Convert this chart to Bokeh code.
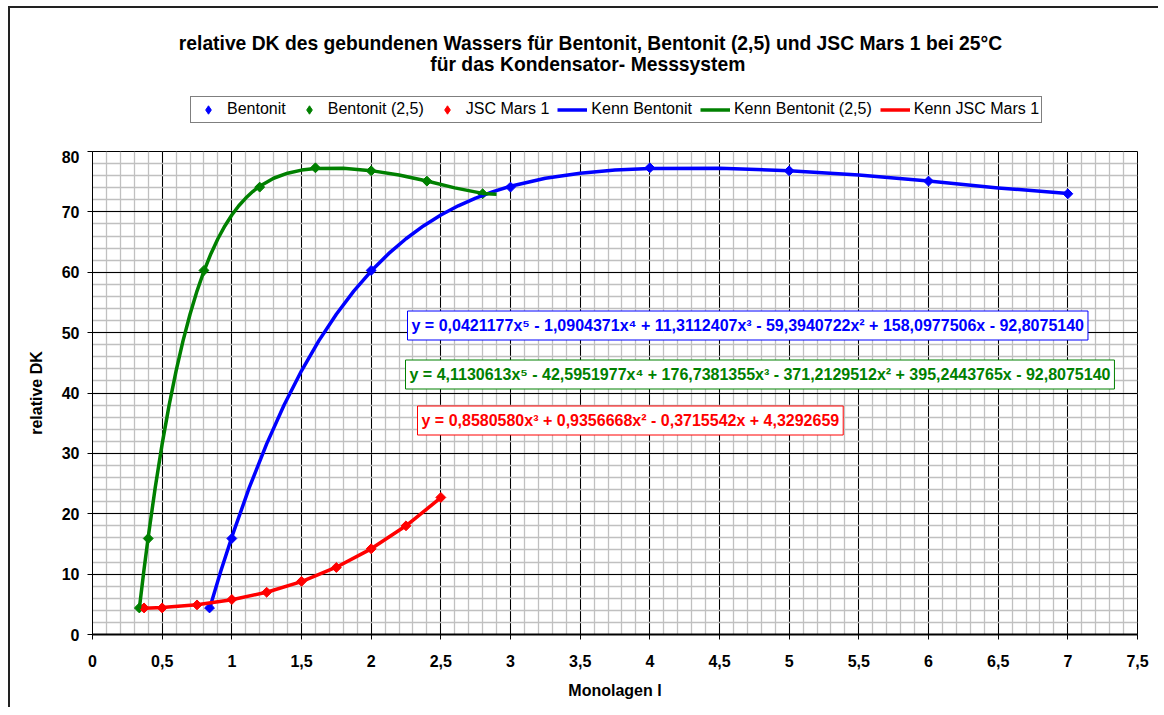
import math
from bokeh.plotting import figure
from bokeh.layouts import column
from bokeh.models import Range1d, FixedTicker, Label, Legend, LegendItem
from bokeh.embed import file_html
from bokeh.resources import INLINE

FONT = "Liberation Sans"

# ---------------- data ----------------
title_line1 = "relative DK des gebundenen Wassers für Bentonit, Bentonit (2,5) und JSC Mars 1 bei 25°C"
title_line2 = "für das Kondensator-  Messsystem"
x_axis_title = "Monolagen l"
y_axis_title = "relative DK"

bent_x = [0.84, 1, 2, 3, 4, 5, 6, 7]
bent_y = [4.4, 15.9, 60.3, 74.1, 77.3, 76.8, 75.1, 73.0]

bent25_x = [0.336, 0.4, 0.8, 1.2, 1.6, 2.0, 2.4, 2.8]
bent25_y = [4.4, 15.9, 60.3, 74.1, 77.3, 76.8, 75.1, 73.0]

jsc_x = [0.37, 0.5, 0.75, 1, 1.25, 1.5, 1.75, 2, 2.25, 2.5]
jsc_y = [4.4, 4.4, 4.9, 5.8, 7.0, 8.8, 11.1, 14.2, 18.0, 22.7]

kenn_bent_x = [0.84, 0.92, 1, 1.125, 1.25, 1.375, 1.5, 1.625, 1.75, 1.875, 2, 2.125, 2.25, 2.375,
               2.5, 2.625, 2.75, 2.875, 3, 3.25, 3.5, 3.75, 4, 4.5, 5, 5.5, 6, 6.5, 7]
kenn_bent_y = [4.27, 10.43, 16.16, 24.32, 31.57, 38.00, 43.68, 48.67, 53.05, 56.88, 60.20, 63.08,
               65.55, 67.67, 69.48, 71.01, 72.29, 73.36, 74.25, 75.57, 76.41, 76.92, 77.17, 77.21,
               76.83, 76.12, 75.12, 73.97, 73.06]

kenn_bent25_x = [0.336, 0.368, 0.4, 0.45, 0.5, 0.55, 0.6, 0.65, 0.7, 0.75, 0.8, 0.85, 0.9, 0.95,
                 1.0, 1.05, 1.1, 1.15, 1.2, 1.3, 1.4, 1.5, 1.6, 1.8, 2.0, 2.2, 2.4, 2.6, 2.8, 2.9]
kenn_bent25_y = [4.27, 10.43, 16.16, 24.32, 31.57, 38.00, 43.68, 48.67, 53.05, 56.88, 60.20, 63.08,
                 65.55, 67.67, 69.48, 71.01, 72.29, 73.36, 74.25, 75.57, 76.41, 76.92, 77.17, 77.21,
                 76.83, 76.12, 75.12, 73.97, 73.06, 72.93]

kenn_jsc_x = [0.37, 0.5, 0.75, 1, 1.25, 1.5, 1.75, 2, 2.25, 2.5]
kenn_jsc_y = [4.36, 4.48, 4.94, 5.75, 7.00, 8.77, 11.14, 14.19, 18.00, 22.66]

eq_bent = "y = 0,0421177x⁵ - 1,0904371x⁴ + 11,3112407x³ - 59,3940722x² + 158,0977506x - 92,8075140"
eq_bent25 = "y = 4,1130613x⁵ - 42,5951977x⁴ + 176,7381355x³ - 371,2129512x² + 395,2443765x - 92,8075140"
eq_jsc = "y = 0,8580580x³ + 0,9356668x² - 0,3715542x + 4,3292659"

x_tick_values = [0, 0.5, 1, 1.5, 2, 2.5, 3, 3.5, 4, 4.5, 5, 5.5, 6, 6.5, 7, 7.5]
x_tick_labels = ["0", "0,5", "1", "1,5", "2", "2,5", "3", "3,5", "4", "4,5", "5", "5,5", "6", "6,5", "7", "7,5"]
y_tick_values = [0, 10, 20, 30, 40, 50, 60, 70, 80]
y_tick_labels = ["0", "10", "20", "30", "40", "50", "60", "70", "80"]

legend_labels = ["Bentonit", "Bentonit (2,5)", "JSC Mars 1",
                 "Kenn Bentonit", "Kenn Bentonit (2,5)", "Kenn JSC Mars 1"]

BLUE, GREEN, RED = "#0000FF", "#008000", "#FF0000"

W = 1148
HEAD_H = 142
MAIN_H = 557
BL, BR = 82, 21  # frame borders (left / right)

# ---------------- main plot ----------------
p = figure(width=W, height=MAIN_H, output_backend="svg", toolbar_location=None, title=None,
           x_range=Range1d(0, 7.5), y_range=Range1d(0, 80),
           min_border_left=BL, min_border_right=BR, min_border_top=1, min_border_bottom=73)
p.background_fill_color = "white"
p.border_fill_color = "white"
p.outline_line_color = "black"
p.outline_line_width = 1

x_minor = [i / 10 for i in range(0, 76)]
y_minor = [i * 2 for i in range(0, 41)]
p.xaxis.ticker = FixedTicker(ticks=x_tick_values, minor_ticks=x_minor)
p.yaxis.ticker = FixedTicker(ticks=y_tick_values, minor_ticks=y_minor)
p.xaxis.major_label_overrides = {v: l for v, l in zip(x_tick_values, x_tick_labels)}
p.yaxis.major_label_overrides = {v: l for v, l in zip(y_tick_values, y_tick_labels)}

for ax in (p.xaxis, p.yaxis):
    ax.major_tick_out = 5
    ax.major_tick_in = 0
    ax.minor_tick_out = 0
    ax.minor_tick_in = 0
    ax.major_tick_line_color = "black"
    ax.axis_line_color = "black"
    ax.major_label_text_font = FONT
    ax.major_label_text_font_style = "bold"
    ax.major_label_text_font_size = "16px"
    ax.major_label_text_color = "black"
    ax.axis_label_text_font = FONT
    ax.axis_label_text_font_style = "bold"
    ax.axis_label_text_font_size = "16px"
    ax.axis_label_text_color = "black"
p.xaxis.axis_line_width = 2
p.yaxis.axis_line_width = 1
p.xaxis.major_label_standoff = 15
p.yaxis.major_label_standoff = 8
p.xaxis.axis_label = x_axis_title
p.yaxis.axis_label = y_axis_title
p.xaxis.axis_label_standoff = 12
p.yaxis.axis_label_standoff = 14

for g in (p.xgrid, p.ygrid):
    g.grid_line_color = "black"
    g.grid_line_width = 1
    g.minor_grid_line_color = "#c0c0c0"
    g.minor_grid_line_width = 1.3
p.xgrid.ticker = p.xaxis.ticker
p.ygrid.ticker = p.yaxis.ticker

MSIZE = 7
ANG = math.pi / 4
LW = 3.5
p.scatter(bent_x, bent_y, marker="square", angle=ANG, size=MSIZE, color=BLUE)
p.scatter(bent25_x, bent25_y, marker="square", angle=ANG, size=MSIZE, color=GREEN)
p.scatter(jsc_x, jsc_y, marker="square", angle=ANG, size=MSIZE, color=RED)
p.line(kenn_bent_x, kenn_bent_y, line_color=BLUE, line_width=LW, line_join="round")
p.line(kenn_bent25_x, kenn_bent25_y, line_color=GREEN, line_width=LW, line_join="round")
p.line(kenn_jsc_x, kenn_jsc_y, line_color=RED, line_width=LW, line_join="round")

for txt, xx, yy, col in ((eq_bent, 315, 309, BLUE), (eq_bent25, 313, 260, GREEN), (eq_jsc, 325, 214, RED)):
    p.add_layout(Label(x=xx, y=yy, x_units="screen", y_units="screen", text=txt,
                       text_font=FONT, text_font_style="bold", text_font_size="16px",
                       text_align="left", text_baseline="middle", text_color=col,
                       border_line_color=col, border_line_width=1,
                       background_fill_color="white", padding=(4, 6)))

# ---------------- header: title + legend ----------------
# header x range is in canvas pixels so that the header frame lines up with the main frame
h = figure(width=W, height=HEAD_H, output_backend="svg", toolbar_location=None, title=None,
           x_range=Range1d(BL, W - BR), y_range=Range1d(0, HEAD_H),
           x_axis_location=None, y_axis_location=None,
           min_border_left=BL, min_border_right=BR, min_border_top=0, min_border_bottom=0)
h.outline_line_color = None
h.background_fill_color = "white"
h.border_fill_color = "white"
h.xgrid.visible = False
h.ygrid.visible = False

for txt, yy in ((title_line1, 107), (title_line2, 86)):
    h.add_layout(Label(x=580, y=yy, text=txt, text_font=FONT, text_font_style="bold",
                       text_font_size="19.3px", text_align="center", text_baseline="middle",
                       text_color="black"))

# legend samples: same series, they lie left of the header's visible range (never shown)
lg_b = h.scatter(bent_x, bent_y, marker="diamond", size=MSIZE, color=BLUE)
lg_b25 = h.scatter(bent25_x, bent25_y, marker="diamond", size=MSIZE, color=GREEN)
lg_j = h.scatter(jsc_x, jsc_y, marker="diamond", size=MSIZE, color=RED)
lg_kb = h.line(kenn_bent_x, kenn_bent_y, line_color=BLUE, line_width=LW)
lg_kb25 = h.line(kenn_bent25_x, kenn_bent25_y, line_color=GREEN, line_width=LW)
lg_kj = h.line(kenn_jsc_x, kenn_jsc_y, line_color=RED, line_width=LW)

legend = Legend(items=[LegendItem(label=lab, renderers=[r]) for lab, r in
                       zip(legend_labels, [lg_b, lg_b25, lg_j, lg_kb, lg_kb25, lg_kj])],
                orientation="horizontal", location=(98, 27.5))
legend.label_text_font = FONT
legend.label_text_font_size = "16px"
legend.label_text_color = "black"
legend.glyph_width = 30
legend.glyph_height = 21
legend.label_height = 16
legend.label_standoff = 4
legend.spacing = 8
legend.padding = 2
legend.margin = 0
legend.border_line_color = "black"
legend.border_line_width = 1
legend.background_fill_color = "white"
legend.background_fill_alpha = 1
h.add_layout(legend, "center")

page = column(h, p, spacing=0)
page.styles = {"border-left": "2px solid #222", "border-top": "2px solid #222",
               "margin-left": "8px", "margin-top": "6px"}

open("out.html", "w").write(file_html(page, INLINE))
